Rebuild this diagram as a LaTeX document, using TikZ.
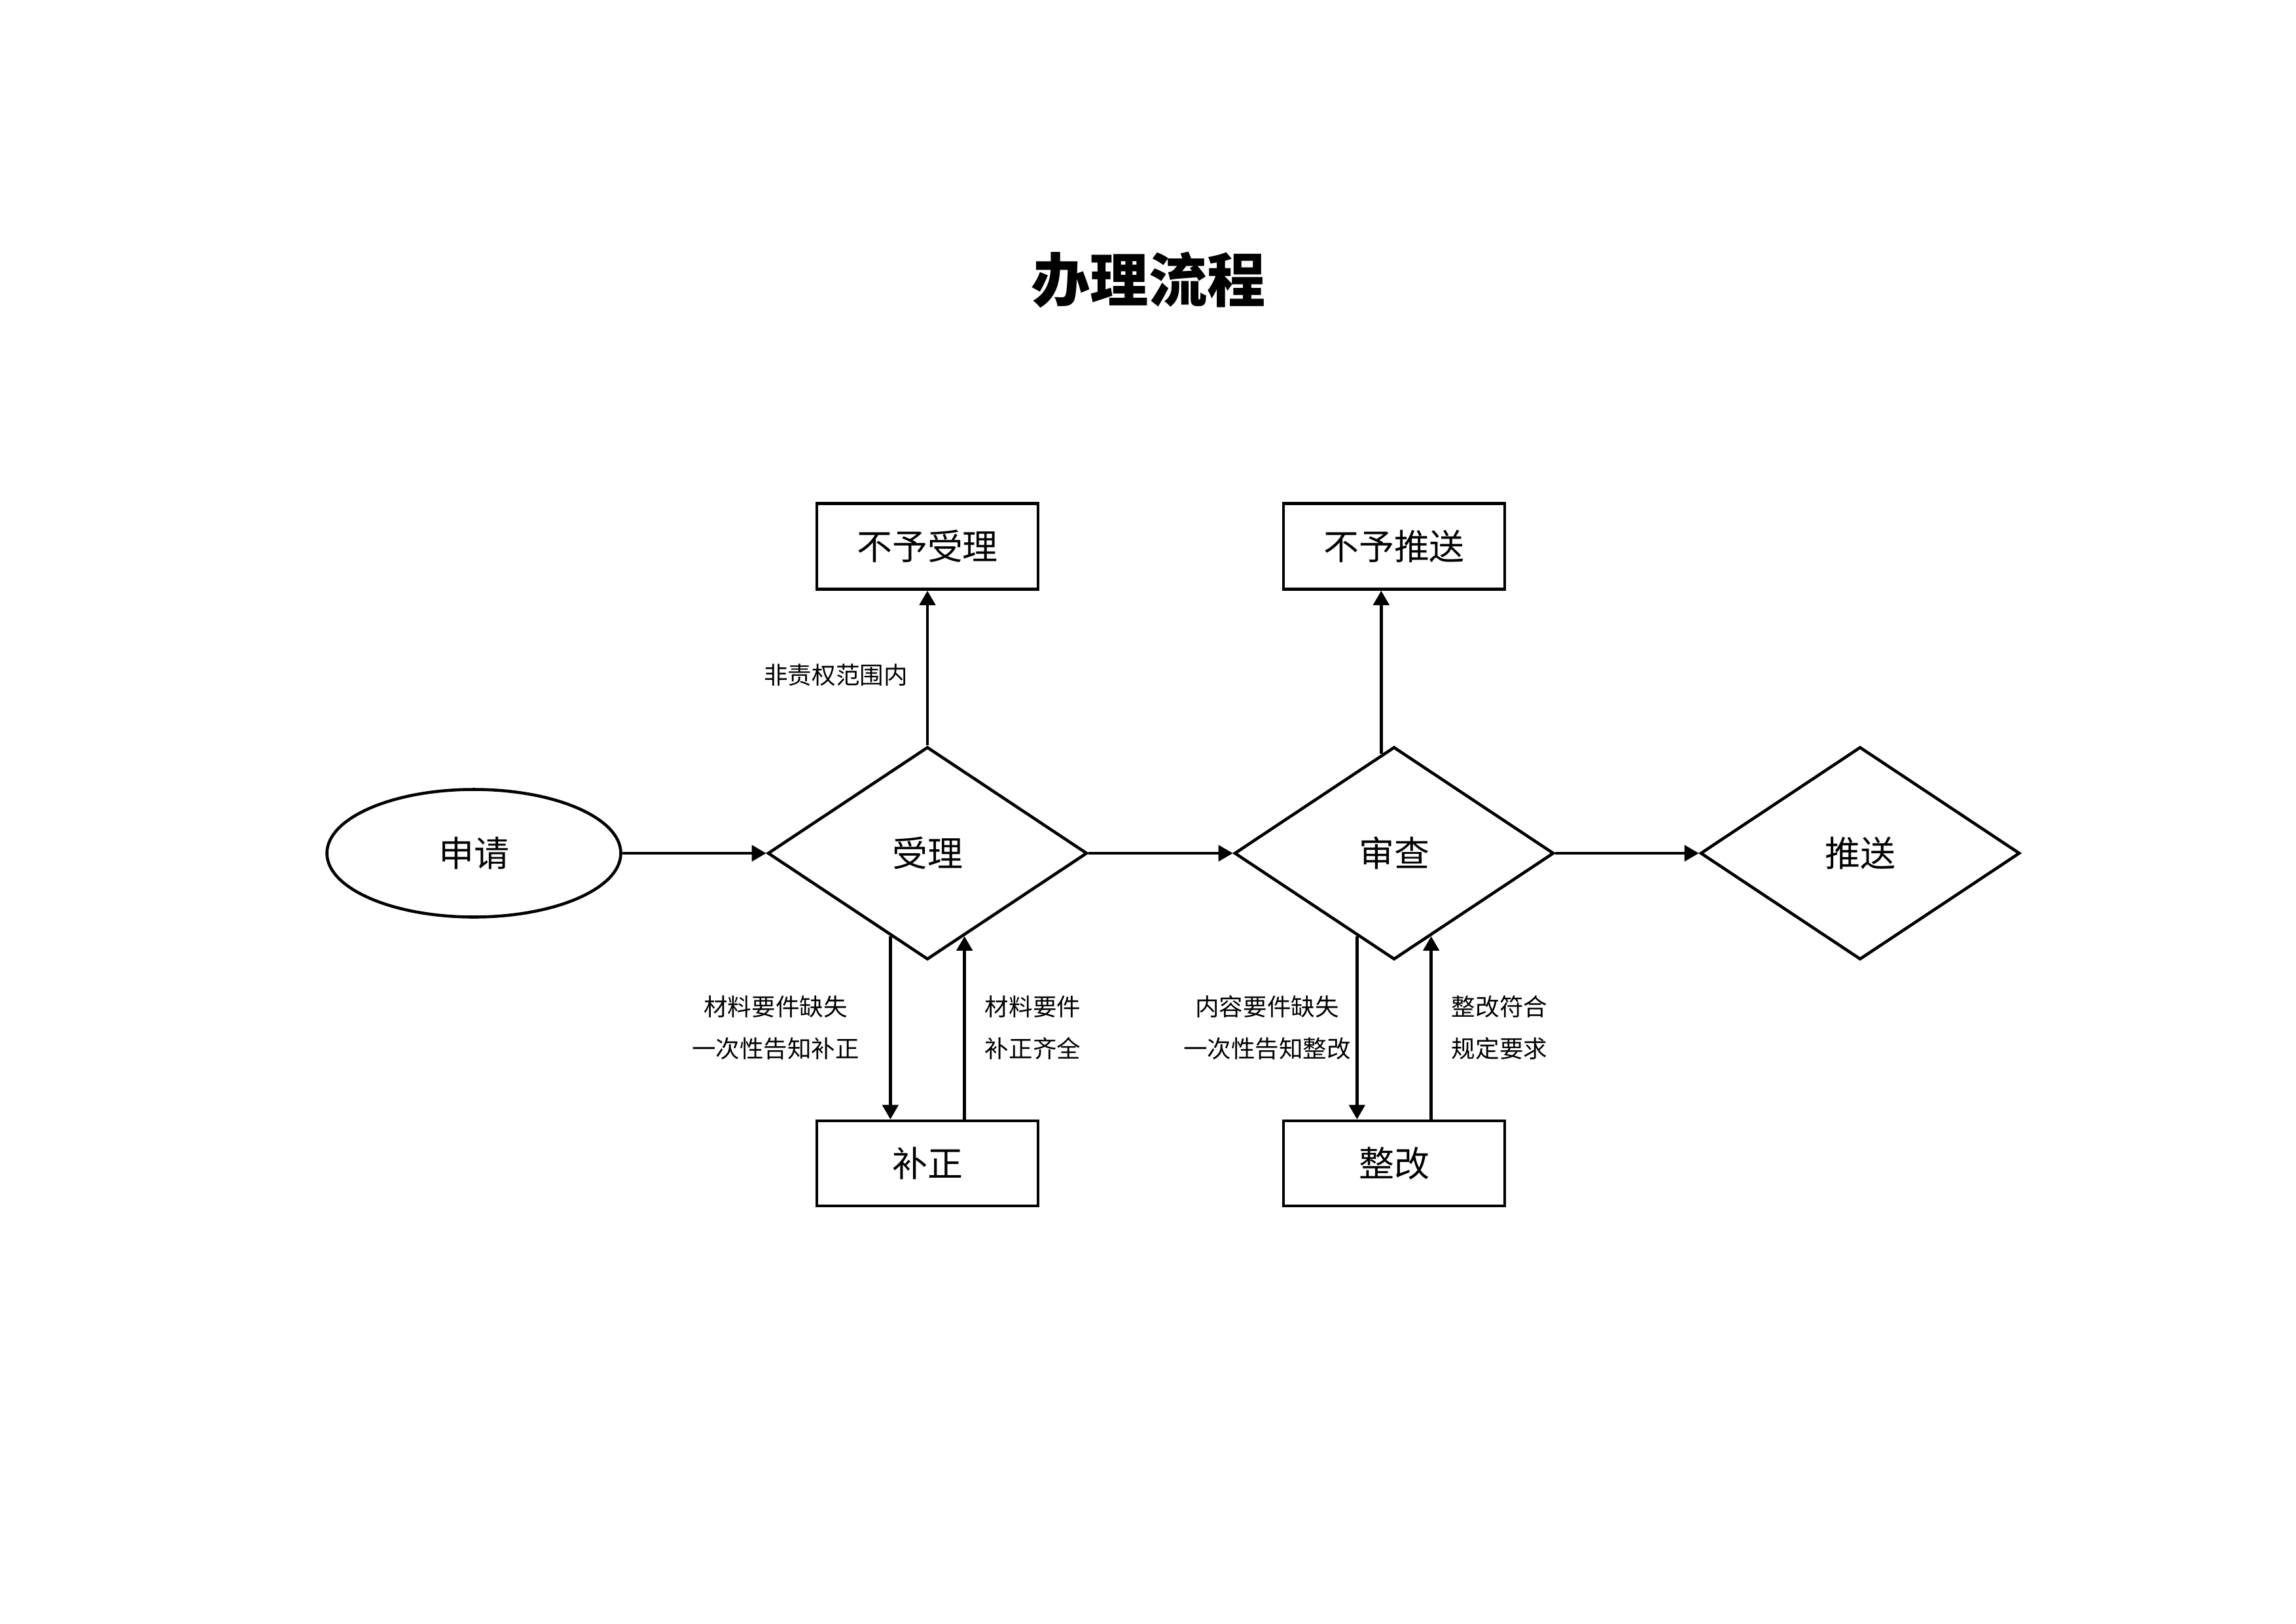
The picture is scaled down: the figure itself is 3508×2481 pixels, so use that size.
\documentclass[tikz,border=0pt]{standalone}
\usepackage{fontspec}
\setmainfont{Noto Sans CJK SC}
\usetikzlibrary{shapes.geometric,arrows.meta,calc}
\newdimen\PX \PX=0.24089pt
\tikzset{
  base/.style={line width=1.1pt, inner sep=0pt, font=\fontsize{13}{15}\selectfont},
  procbox/.style={base, draw, rectangle, minimum width=338\PX, minimum height=130\PX},
  decision/.style={base, draw, diamond, minimum width=488\PX, minimum height=325\PX},
  startnode/.style={base, draw, ellipse, minimum width=449\PX, minimum height=195\PX},
  lbl/.style={inner sep=0pt, align=center, font=\fontsize{8.8}{15.4}\selectfont},
  arr/.style={line width=1.1pt, -{Triangle[length=5.3pt,width=5.8pt]}},
}
\begin{document}
\begin{tikzpicture}[x=0.24089pt, y=-0.24089pt]
\useasboundingbox (0,0) rectangle (3508,2481);
\node[inner sep=0pt, font=\bfseries\fontsize{21.5}{26}\selectfont] (title) at (1755,428) {办理流程};

\node[startnode] (sq) at (724,1304) {申请};
\node[decision] (sl) at (1417,1304) {受理};
\node[decision] (sc) at (2130,1304) {审查};
\node[decision] (ts) at (2842,1304) {推送};

\node[procbox, minimum height=131\PX] (bysl) at (1417,835) {不予受理};
\node[procbox, minimum height=131\PX] (byts) at (2130,835) {不予推送};
\node[procbox] (bz) at (1417,1778) {补正};
\node[procbox] (zg) at (2130,1778) {整改};

\draw[arr] (sq.east) -- (sl.west);
\draw[arr] (sl.east) -- (sc.west);
\draw[arr] (sc.east) -- (ts.west);

\draw[arr] (sl.north) -- (bysl.south);
\coordinate (scup) at ($(sc.north)!0.08!(sc.west)$);
\draw[arr] (scup) -- (scup |- byts.south);

\coordinate (sld) at ($(sl.west)!0.77!(sl.south)$);
\coordinate (slu) at ($(sl.south)!0.23!(sl.east)$);
\draw[arr] (sld) -- (sld |- bz.north);
\draw[arr] (slu |- bz.north) -- (slu);

\coordinate (scd) at ($(sc.west)!0.77!(sc.south)$);
\coordinate (scu) at ($(sc.south)!0.23!(sc.east)$);
\draw[arr] (scd) -- (scd |- zg.north);
\draw[arr] (scu |- zg.north) -- (scu);

\node[lbl] (l1) at (1277,1032) {非责权范围内};
\node[lbl] (l2) at (1185,1571) {材料要件缺失\\一次性告知补正};
\node[lbl] (l3) at (1578,1571) {材料要件\\补正齐全};
\node[lbl] (l4) at (1936,1571) {内容要件缺失\\一次性告知整改};
\node[lbl] (l5) at (2291,1571) {整改符合\\规定要求};
\end{tikzpicture}
\end{document}
